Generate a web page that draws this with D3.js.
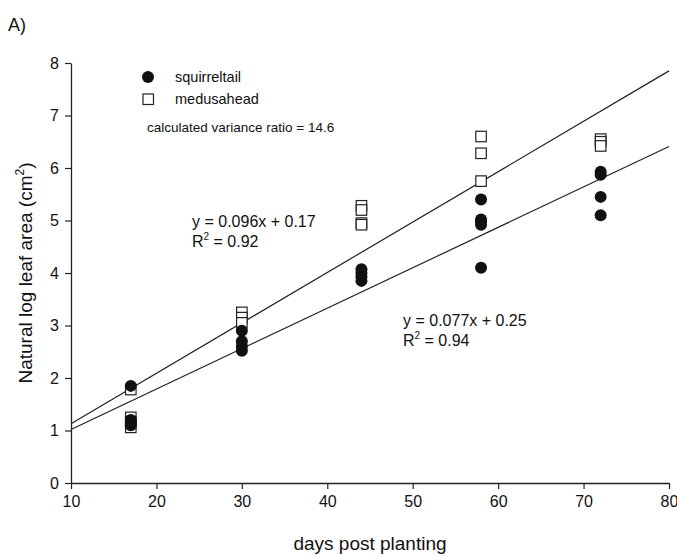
<!DOCTYPE html>
<html>
<head>
<meta charset="utf-8">
<script src="https://cdn.jsdelivr.net/npm/d3@7"></script>
<style>
  body { margin: 0; background: #fff; }
  text { font-family: "Liberation Sans", Arial, sans-serif; fill: #111; }
</style>
</head>
<body>
<div id="chart"></div>
<script>
// data
var days = [17, 30, 44, 58, 72];
var squirreltail = [
  [1.85, 1.2, 1.15, 1.1],
  [2.9, 2.7, 2.6, 2.52],
  [4.07, 4.0, 3.93, 3.85],
  [5.4, 5.02, 4.98, 4.92, 4.1],
  [5.93, 5.87, 5.45, 5.1]
];
var medusahead = [
  [1.78, 1.25, 1.17, 1.06],
  [3.25, 3.15, 3.05],
  [5.28, 5.2, 4.95, 4.92],
  [6.6, 6.28, 5.75],
  [6.55, 6.5, 6.42]
];
var fitSlopes = [0.096, 0.077];     // medusahead, squirreltail
var fitIntercepts = [0.17, 0.25];
var xTicks = [10, 20, 30, 40, 50, 60, 70, 80];
var yTicks = [0, 1, 2, 3, 4, 5, 6, 7, 8];

var w = 677, h = 556;
var pLeft = 71, pRight = 669, pTop = 63, pBottom = 483;

var svg = d3.select("#chart").append("svg")
  .attr("width", w)
  .attr("height", h);

var x = d3.scaleLinear().domain([10, 80]).range([pLeft, pRight]);
var y = d3.scaleLinear().domain([0, 8]).range([pBottom, pTop]);

// axes
var xAxis = svg.append("g")
  .attr("transform", "translate(0," + pBottom + ")")
  .call(d3.axisBottom(x).tickValues(xTicks).tickSize(6).tickPadding(7).tickSizeOuter(0));
var yAxis = svg.append("g")
  .attr("transform", "translate(" + pLeft + ",0)")
  .call(d3.axisLeft(y).tickValues(yTicks).tickSize(6).tickPadding(6).tickSizeOuter(0));

[xAxis, yAxis].forEach(function(a) {
  a.select(".domain").attr("stroke", "#222").attr("stroke-width", 1.3);
  a.selectAll(".tick line").attr("stroke", "#222").attr("stroke-width", 1.2);
  a.selectAll(".tick text")
    .attr("font-family", "Liberation Sans, Arial, sans-serif")
    .attr("font-size", 16)
    .attr("fill", "#111");
});

// regression lines
var lineData = fitSlopes.map(function(s, i) {
  return [[10, s * 10 + fitIntercepts[i]], [80, s * 80 + fitIntercepts[i]]];
});
svg.selectAll("line.fit")
  .data(lineData)
  .enter()
  .append("line")
  .attr("class", "fit")
  .attr("x1", function(d) { return x(d[0][0]); })
  .attr("y1", function(d) { return y(d[0][1]); })
  .attr("x2", function(d) { return x(d[1][0]); })
  .attr("y2", function(d) { return y(d[1][1]); })
  .attr("stroke", "#222")
  .attr("stroke-width", 1.2);

// flatten points
function flat(arr) {
  var out = [];
  arr.forEach(function(vals, i) {
    vals.forEach(function(v) { out.push({ d: days[i], v: v }); });
  });
  return out;
}

// medusahead squares (drawn first, circles sit on top)
var sz = 10.5;
svg.selectAll("rect.md")
  .data(flat(medusahead))
  .enter()
  .append("rect")
  .attr("class", "md")
  .attr("x", function(d) { return x(d.d) - sz / 2; })
  .attr("y", function(d) { return y(d.v) - sz / 2; })
  .attr("width", sz)
  .attr("height", sz)
  .attr("fill", "#fff")
  .attr("stroke", "#222")
  .attr("stroke-width", 1.2);

// squirreltail circles
svg.selectAll("circle.sq")
  .data(flat(squirreltail))
  .enter()
  .append("circle")
  .attr("class", "sq")
  .attr("cx", function(d) { return x(d.d); })
  .attr("cy", function(d) { return y(d.v); })
  .attr("r", 6)
  .attr("fill", "#111");

// legend
svg.append("circle").attr("cx", 148).attr("cy", 77).attr("r", 6).attr("fill", "#111");
svg.append("text").text("squirreltail").attr("x", 175).attr("y", 82).attr("font-size", 14.5);
svg.append("rect").attr("x", 143).attr("y", 94).attr("width", sz).attr("height", sz)
  .attr("fill", "#fff").attr("stroke", "#222").attr("stroke-width", 1.2);
svg.append("text").text("medusahead").attr("x", 175).attr("y", 104).attr("font-size", 14.5);
svg.append("text").text("calculated variance ratio = 14.6").attr("x", 147).attr("y", 132)
  .attr("font-size", 13.5);

// equations
function eq(tx, ty, s, b, r2) {
  svg.append("text").text("y = " + s + "x + " + b).attr("x", tx).attr("y", ty).attr("font-size", 16);
  var t = svg.append("text").attr("x", tx).attr("y", ty + 20).attr("font-size", 16);
  t.append("tspan").text("R");
  t.append("tspan").text("2").attr("font-size", 10).attr("dy", -7);
  t.append("tspan").text(" = " + r2).attr("dy", 7);
}
eq(192, 227, "0.096", "0.17", "0.92");
eq(403, 326, "0.077", "0.25", "0.94");

// panel label
svg.append("text").text("A)").attr("x", 8).attr("y", 31).attr("font-size", 18);

// axis titles
svg.append("text")
  .text("days post planting")
  .attr("x", (pLeft + pRight) / 2)
  .attr("y", 550)
  .attr("text-anchor", "middle")
  .attr("font-size", 19);

var yt = svg.append("text")
  .attr("transform", "translate(32," + ((pTop + pBottom) / 2) + ") rotate(-90)")
  .attr("text-anchor", "middle")
  .attr("font-size", 19);
yt.append("tspan").text("Natural log leaf area (cm");
yt.append("tspan").text("2").attr("font-size", 12).attr("dy", -8);
yt.append("tspan").text(")").attr("dy", 8);
</script>
</body>
</html>
